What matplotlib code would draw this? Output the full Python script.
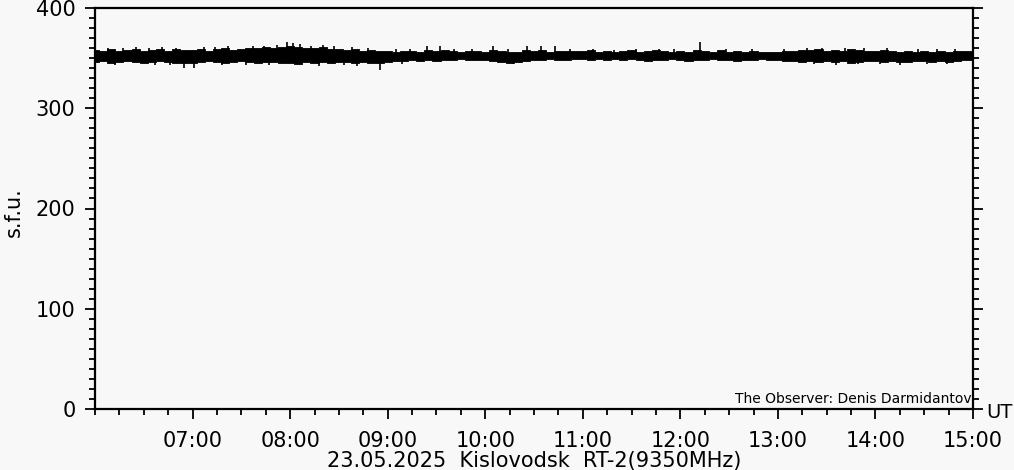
"""
Kislovodsk RT-2 9350 MHz solar flux record, 23.05.2025.
Noisy flux band drawn from hand-read upper/lower envelopes (5-min steps)
plus the narrow spikes sticking out of it.
"""

import numpy as np
import matplotlib.pyplot as plt
from matplotlib.ticker import MultipleLocator

# ---------------------------------------------------------------------
# Data (s.f.u.), one row per hour from 06:00
# ---------------------------------------------------------------------
upper = [
    358, 357, 359, 357, 358, 359, 357, 358, 359, 357, 359, 358,   # 06
    358, 359, 357, 359, 360, 358, 359, 360, 360, 361, 360, 361,   # 07
    362, 361, 360, 360, 361, 359, 359, 358, 359, 357, 358, 357,   # 08
    357, 356, 357, 357, 356, 358, 357, 358, 357, 356, 357, 357,   # 09
    356, 358, 357, 356, 356, 358, 357, 358, 356, 357, 357, 357,   # 10
    357, 358, 356, 357, 356, 357, 358, 356, 357, 358, 357, 356,   # 11
    357, 356, 358, 357, 356, 358, 356, 357, 356, 357, 356, 356,   # 12
    356, 357, 357, 358, 358, 359, 357, 358, 357, 359, 358, 357,   # 13
    357, 358, 357, 356, 357, 356, 357, 356, 357, 356, 357, 357,   # 14
    357,                                                          # 15
]
lower = [
    346, 347, 345, 346, 347, 346, 345, 346, 347, 346, 345, 345,   # 06
    345, 346, 347, 346, 345, 346, 347, 346, 345, 346, 346, 345,   # 07
    345, 344, 346, 345, 346, 345, 346, 346, 345, 346, 345, 345,   # 08
    346, 347, 347, 348, 347, 348, 347, 348, 348, 349, 348, 348,   # 09
    348, 347, 346, 345, 346, 347, 348, 348, 349, 348, 348, 349,   # 10
    349, 348, 349, 348, 349, 348, 349, 348, 347, 348, 348, 349,   # 11
    348, 347, 348, 348, 349, 348, 348, 347, 348, 348, 349, 348,   # 12
    348, 347, 347, 346, 347, 346, 347, 346, 347, 345, 346, 347,   # 13
    347, 346, 347, 346, 346, 347, 347, 346, 347, 346, 347, 348,   # 14
    348,                                                          # 15
]

# excursions above the band (time "HH:MM", peak value)
spike_up_times = [
    "06:08", "06:17", "06:25", "06:33", "06:41", "06:50", "07:07", "07:14",
    "07:22", "07:37", "07:44", "07:52", "07:58", "08:02", "08:06", "08:13",
    "08:20", "08:27", "08:38", "08:48", "09:05", "09:14", "09:24", "09:32",
    "09:41", "09:52", "10:05", "10:14", "10:26", "10:34", "10:43", "10:52",
    "11:06", "11:19", "11:33", "11:47", "11:56", "12:12", "12:28", "12:44",
    "13:04", "13:18", "13:27", "13:41", "13:53", "14:07", "14:26", "14:38",
    "14:49",
]
spike_up_vals = [
    360, 360, 361, 360, 361, 360, 361, 361,
    362, 362, 362, 363, 366, 365, 364, 362,
    363, 362, 361, 360, 359, 359, 362, 362,
    359, 359, 362, 359, 362, 362, 362, 359,
    359, 358, 359, 359, 359, 366, 359, 359,
    359, 360, 360, 360, 360, 360, 359, 359,
    359,
]
# excursions below the band
spike_dn_times = [
    "06:12", "06:37", "06:46", "06:55", "07:01", "07:18", "07:33", "07:47",
    "08:18", "08:33", "08:41", "08:55", "09:09", "10:17", "13:22", "13:36",
    "13:49", "14:03", "14:15", "14:32", "14:44",
]
spike_dn_vals = [
    343, 343, 343, 340, 340, 343, 343, 343,
    342, 343, 342, 338, 344, 344, 344, 343,
    344, 344, 343, 344, 344,
]

BASE = 352  # centre of the band
BG = "#f8f8f8"


def hhmm(s):
    h, m = s.split(":")
    return int(h) + int(m) / 60.0


# ---------------------------------------------------------------------
# Plot
# ---------------------------------------------------------------------
plt.rcParams["font.family"] = "DejaVu Sans"

fig = plt.figure(figsize=(10.14, 4.70), dpi=100, facecolor=BG)
ax = fig.add_axes([95 / 1014, 1 - 409 / 470, 878 / 1014, 401 / 470])
ax.set_facecolor(BG)

t = 6 + np.arange(len(upper)) * 5 / 60.0
ax.fill_between(t, lower, upper, step="mid", color="black", lw=0.6,
                edgecolor="black")

ax.vlines([hhmm(s) for s in spike_up_times], BASE, spike_up_vals,
          color="black", lw=1.2)
ax.vlines([hhmm(s) for s in spike_dn_times], BASE, spike_dn_vals,
          color="black", lw=1.2)

ax.set_xlim(6, 15)
ax.set_ylim(0, 400)

ax.set_xticks(range(7, 16))
ax.set_xticklabels([f"{h:02d}:00" for h in range(7, 16)])
ax.xaxis.set_minor_locator(MultipleLocator(0.25))
ax.yaxis.set_major_locator(MultipleLocator(100))
ax.yaxis.set_minor_locator(MultipleLocator(10))

ax.tick_params(axis="both", which="both", direction="out", color="black",
               labelsize=15, width=1.3)
ax.tick_params(axis="x", which="major", length=7, pad=9)
ax.tick_params(axis="x", which="minor", length=4)
ax.tick_params(axis="y", which="major", length=7, pad=7, right=True)
ax.tick_params(axis="y", which="minor", length=4, right=True)
ax.tick_params(top=False, which="both")

for sp in ax.spines.values():
    sp.set_linewidth(1.6)
    sp.set_color("black")

ax.text(0.999, 0.008, "The Observer: Denis Darmidantov", transform=ax.transAxes,
        ha="right", va="bottom", fontsize=10)

fig.text(986 / 1014, 1 - 413 / 470, "UT", ha="left", va="center", fontsize=14)
fig.text(14 / 1014, 1 - 212 / 470, "s.f.u.", rotation=90, ha="center",
         va="center", fontsize=15)
fig.text(534 / 1014, 1 - 461 / 470, "23.05.2025  Kislovodsk  RT-2(9350MHz)",
         ha="center", va="center", fontsize=15)

fig.savefig("out.png", dpi=100, facecolor=BG)
